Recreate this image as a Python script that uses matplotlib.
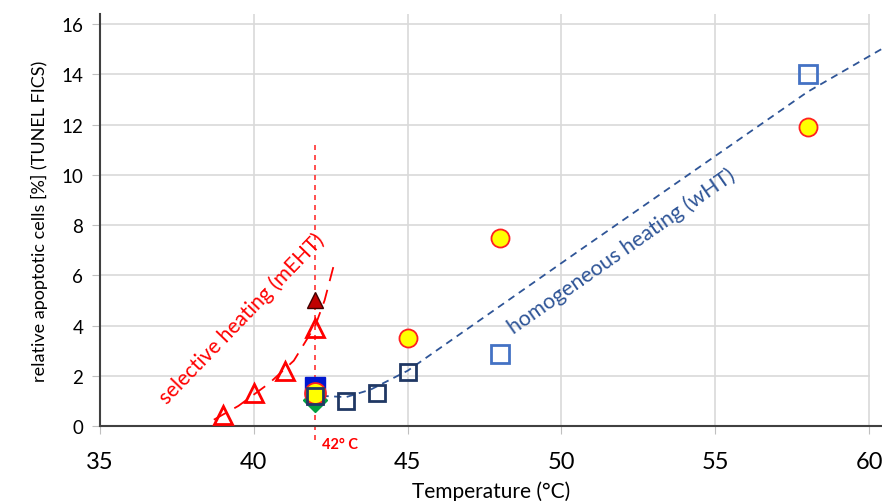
import matplotlib.pyplot as plt

# data
mEHT_x = [39, 40, 41, 42]
mEHT_y = [0.42, 1.3, 2.2, 3.9]
mEHT_hi_x = [42]
mEHT_hi_y = [5.0]

wHT_x = [42, 43, 44, 45]
wHT_y = [1.2, 1.0, 1.3, 2.15]
wHT2_x = [48, 58]
wHT2_y = [2.85, 14.0]

circ_x = [45, 48, 58]
circ_y = [3.5, 7.5, 11.9]
circ42_x, circ42_y = [42], [1.3]

blue_sq_x, blue_sq_y = [42], [1.55]
green_x, green_y = [42], [1.05]

# hand-drawn trend lines
red_trend_x = [38.7, 39.5, 40.5, 41.3, 42.0, 42.3, 42.6]
red_trend_y = [0.25, 0.8, 1.7, 2.6, 4.0, 5.0, 6.4]
blue_trend_x = [42.2, 43.0, 43.8, 45.0, 50.6, 58.0, 60.4]
blue_trend_y = [1.2, 1.15, 1.45, 2.2, 7.0, 13.3, 15.0]

xticks = [35, 40, 45, 50, 55, 60]
yticks = [0, 2, 4, 6, 8, 10, 12, 14, 16]

plt.rcParams['font.family'] = ['Lato', 'DejaVu Sans']

fig = plt.figure(figsize=(8.82, 5.02), dpi=100)
ax = fig.add_axes([100/882, 1-427/502, 782/882, 412/502])
ax.set_xlim(35, 60.42)
ax.set_ylim(0, 16.4)

# grid
for y in yticks[1:]:
    ax.plot([35, 60], [y, y], color='#d9d9d9', lw=1.2, zorder=0)
for x in xticks[1:]:
    ax.plot([x, x], [0, 16.4], color='#d9d9d9', lw=1.2, zorder=0)

for s in ['top', 'right']:
    ax.spines[s].set_visible(False)
ax.spines['left'].set_color('#404040')
ax.spines['bottom'].set_color('#404040')
ax.spines['left'].set_linewidth(1.5)
ax.spines['bottom'].set_linewidth(1.5)

ax.set_xticks(xticks)
ax.set_yticks(yticks)
ax.tick_params(axis='x', labelsize=17, length=6, color='#bfbfbf', pad=12)
ax.tick_params(axis='y', labelsize=13.5, length=6, color='#bfbfbf', pad=6)

# 42 C marker line
ax.plot([42, 42], [-0.55, 11.35], color='#ff3030', lw=1.2, ls=(0, (3, 3)),
        clip_on=False, zorder=1)
ax.text(42.22, -0.72, '42° C', color='#ff0000', fontsize=10.5, fontweight='bold',
        va='center', ha='left')

# trend lines
ax.plot(red_trend_x, red_trend_y, color='#ff0000', lw=1.3, ls=(0, (8, 5)), zorder=2)
ax.plot(blue_trend_x, blue_trend_y, color='#2f5597', lw=1.3, ls=(0, (4, 3)),
        zorder=2, clip_on=False)

# markers
ax.plot(green_x, green_y, 'D', ms=12, color='#00a040', mec='#00a040', zorder=3)
ax.plot(blue_sq_x, blue_sq_y, 's', ms=15, color='#0018d0', mec='#0018d0', zorder=4)
ax.plot(circ42_x, circ42_y, 'o', ms=15, mfc='#ffff00', mec='#ff2020', mew=1.3, zorder=5)
ax.plot(circ_x, circ_y, 'o', ms=13, mfc='#ffff00', mec='#ff2020', mew=1.3, zorder=5)
ax.plot(wHT_x, wHT_y, 's', ms=11, mfc='none', mec='#203864', mew=2, zorder=6)
ax.plot(wHT2_x, wHT2_y, 's', ms=13.5, mfc='none', mec='#4472c4', mew=2, zorder=6)
ax.plot(mEHT_x, mEHT_y, '^', ms=13.5, mfc='none', mec='#ff0000', mew=2, zorder=6)
ax.plot(mEHT_hi_x, mEHT_hi_y, '^', ms=12, color='#c00000', mec='#400000', mew=1, zorder=6)

ax.text(39.6, 4.3, 'selective heating (mEHT)', color='#ff0000', fontsize=15,
        rotation=46, ha='center', va='center')
ax.text(51.95, 7.0, 'homogeneous heating (wHT)', color='#2f5597', fontsize=15.5,
        rotation=35, ha='center', va='center')

ax.set_xlabel('Temperature (°C)', fontsize=15, labelpad=6)
ax.set_ylabel('relative apoptotic cells [%] (TUNEL FICS)', fontsize=13, labelpad=10)

plt.savefig('out.png', dpi=100)
